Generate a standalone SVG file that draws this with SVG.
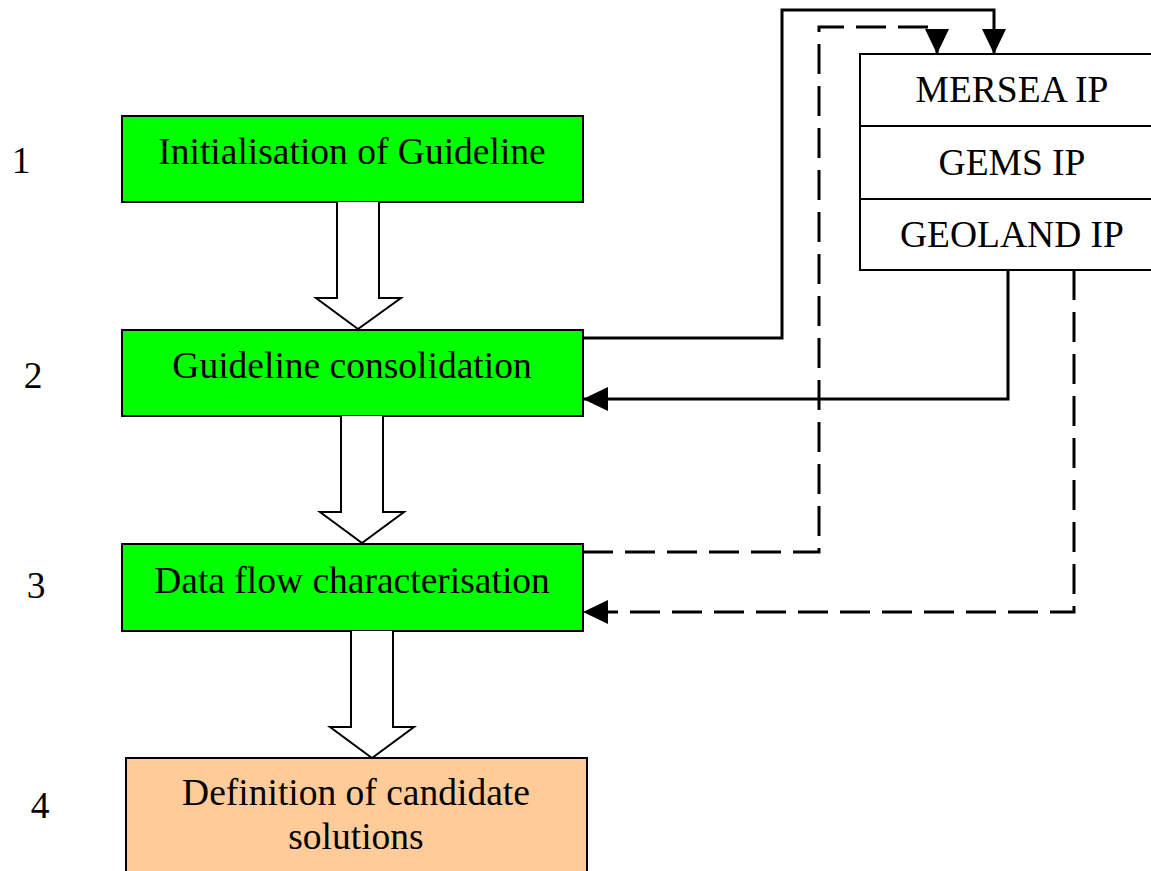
<svg xmlns="http://www.w3.org/2000/svg" width="1151" height="871" viewBox="0 0 1151 871">
<defs>
<style>
.t{font-family:"Liberation Serif","Times New Roman",serif;font-size:37.5px;fill:#000;text-anchor:middle}
.green{fill:#00ff00;stroke:#000;stroke-width:2}
.orange{fill:#ffcc99;stroke:#000;stroke-width:2}
.ip{fill:#fff;stroke:#000;stroke-width:2}
.big{fill:#fff;stroke:#000;stroke-width:2;stroke-linejoin:miter}
.c{fill:none;stroke:#000;stroke-width:3}
.d{fill:none;stroke:#000;stroke-width:3;stroke-dasharray:30 12}
</style>
<marker id="ah" markerWidth="25" markerHeight="24" refX="25" refY="12" orient="auto" markerUnits="userSpaceOnUse">
<path d="M0,0 L25,12 L0,24 Z" fill="#000"/>
</marker>
</defs>
<rect width="1151" height="871" fill="#fff"/>

<g id="labels">
<text class="t" x="21" y="173">1</text>
<text class="t" x="33" y="388">2</text>
<text class="t" x="36" y="598">3</text>
<text class="t" x="40" y="818">4</text>
</g>

<g id="n1">
<rect class="green" x="122" y="116" width="461" height="86"/>
<text class="t" x="352" y="164">Initialisation of Guideline</text>
</g>
<g id="n2">
<rect class="green" x="122" y="330" width="461" height="86"/>
<text class="t" x="352" y="378">Guideline consolidation</text>
</g>
<g id="n3">
<rect class="green" x="122" y="544" width="461" height="87"/>
<text class="t" x="352" y="593">Data flow characterisation</text>
</g>
<g id="n4">
<rect class="orange" x="126" y="758" width="461" height="120"/>
<text class="t" x="356" y="805">Definition of candidate</text>
<text class="t" x="356" y="849">solutions</text>
</g>

<g id="ip">
<rect class="ip" x="860" y="54" width="305" height="72"/>
<rect class="ip" x="860" y="126" width="305" height="73"/>
<rect class="ip" x="860" y="199" width="305" height="71"/>
<text class="t" x="1012" y="102">MERSEA IP</text>
<text class="t" x="1012" y="175">GEMS IP</text>
<text class="t" x="1012" y="247">GEOLAND IP</text>
</g>

<g id="connectors">
<path class="big" d="M337,202 L337,298 L316,298 L358,329 L401,298 L379,298 L379,202"/>
<path class="big" d="M341,416 L341,512 L320,512 L362,543 L404,512 L383,512 L383,416"/>
<path class="big" d="M351,631 L351,727 L330,727 L372,758 L414,727 L393,727 L393,631"/>

<path class="c" d="M583,338 L782,338 L782,10 L994,10 L994,54" marker-end="url(#ah)"/>
<path class="d" d="M583,552 L819,552 L819,27 L937,27 L937,54" marker-end="url(#ah)"/>
<path class="c" d="M1008,270 L1008,399 L583,399" marker-end="url(#ah)"/>
<path class="d" d="M1074,270 L1074,612 L583,612" marker-end="url(#ah)"/>
</g>
</svg>
